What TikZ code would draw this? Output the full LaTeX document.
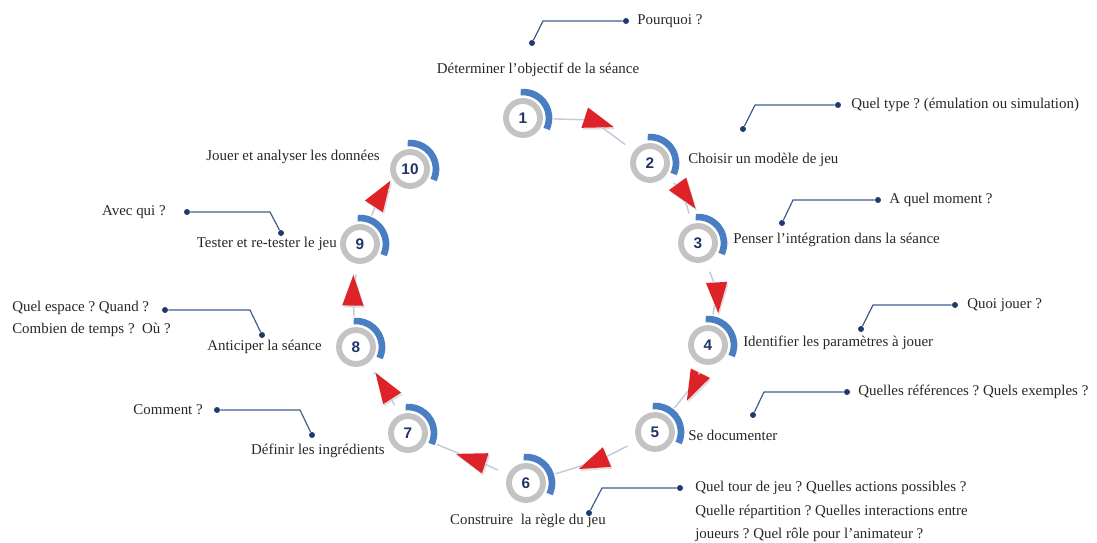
\documentclass[tikz,border=0pt]{standalone}
\usepackage{fontspec}
\setmainfont{Liberation Serif}
\setsansfont{Liberation Sans}
\usetikzlibrary{shapes.geometric,shadows}
\definecolor{ringgray}{HTML}{C3C3C3}
\definecolor{ringblue}{HTML}{4A7EC2}
\definecolor{numnavy}{HTML}{1F3566}
\definecolor{arrowred}{HTML}{DE2328}
\definecolor{linkgray}{HTML}{C2CBD8}
\definecolor{callblue}{HTML}{3F5E8E}
\definecolor{dotnavy}{HTML}{1E3A6E}
\definecolor{txt}{HTML}{262626}
\frenchspacing
\begin{document}
\begin{tikzpicture}[x=0.75pt, y=0.75pt,
  stepnode/.style={circle, minimum size=46pt, inner sep=0pt, text=numnavy,
    font=\sffamily\bfseries\fontsize{11.5}{11.5}\selectfont,
    path picture={
      \draw[ringgray, line width=4.4pt] (path picture bounding box.center) circle[radius=12.75pt];
      \draw[ringblue, line width=5pt] ([shift={(95:19.5pt)}]path picture bounding box.center) arc[start angle=95, end angle=-25, radius=19.5pt];
    }},
  arrowtri/.style={isosceles triangle, isosceles triangle stretches, fill=arrowred, inner sep=0pt,
    minimum width=16pt, minimum height=23pt,
    drop shadow={opacity=0.25, shadow xshift=1pt, shadow yshift=-1.5pt}},
  link/.style={linkgray, line width=1.1pt},
  stepdot/.style={circle, fill=dotnavy, inner sep=0pt, minimum size=4.5pt},
  callline/.style={callblue, line width=0.9pt},
  lbl/.style={text=txt, inner sep=0pt, font=\fontsize{11.2}{13}\selectfont}]
\useasboundingbox (0,0) rectangle (1097,543);

% Step circles around the cycle
\node[stepnode] (c1) at (523,425) {1};
\node[stepnode] (c2) at (650,380) {2};
\node[stepnode] (c3) at (698,300) {3};
\node[stepnode] (c4) at (708,198) {4};
\node[stepnode] (c5) at (655,111) {5};
\node[stepnode] (c6) at (526,60) {6};
\node[stepnode] (c7) at (408,110) {7};
\node[stepnode] (c8) at (356,196) {8};
\node[stepnode] (c9) at (360,299) {9};
\node[stepnode] (c10) at (410,374) {10};

% Red arrow heads between the steps
\node[arrowtri, rotate=-18] (a1) at (592,423) {};
\node[arrowtri, rotate=-54] (a2) at (682,353) {};
\node[arrowtri, rotate=-87] (a3) at (717,253) {};
\node[arrowtri, rotate=-116] (a4) at (697,163) {};
\node[arrowtri, rotate=-157] (a5) at (600,83) {};
\node[arrowtri, rotate=162] (a6) at (478,82) {};
\node[arrowtri, rotate=123] (a7) at (388,151) {};
\node[arrowtri, rotate=89] (a8) at (353,245) {};
\node[arrowtri, rotate=57] (a9) at (378,343) {};

% Links
\draw[link] (c1) -- (a1) -- (c2);
\draw[link] (c2) -- (a2) -- (c3);
\draw[link] (c3) -- (a3) -- (c4);
\draw[link] (c4) -- (a4) -- (c5);
\draw[link] (c5) -- (a5) -- (c6);
\draw[link] (c6) -- (a6) -- (c7);
\draw[link] (c7) -- (a7) -- (c8);
\draw[link] (c8) -- (a8) -- (c9);
\draw[link] (c9) -- (a9) -- (c10);

% Step titles
\node[lbl, anchor=center] (l1) at (538,473) {Déterminer l’objectif de la séance};
\node[lbl, anchor=west] (l2) at (688,383) {Choisir un modèle de jeu};
\node[lbl, anchor=west] (l3) at (733,303) {Penser l’intégration dans la séance};
\node[lbl, anchor=west] (l4) at (743,200) {Identifier les paramètres à jouer};
\node[lbl, anchor=west] (l5) at (688,108) {Se documenter};
\node[lbl, anchor=center] (l6) at (528,22) {Construire~ la règle du jeu};
\node[lbl, anchor=east] (l7) at (385,92) {Définir les ingrédients};
\node[lbl, anchor=east] (l8) at (322,196) {Anticiper la séance};
\node[lbl, anchor=east] (l9) at (337,299) {Tester et re-tester le jeu};
\node[lbl, anchor=east] (l10) at (380,386) {Jouer et analyser les données};

% Question callouts
\node[stepdot] (s1) at (532,500) {};
\coordinate (k1) at (543,522);
\node[stepdot] (q1) at (626,522) {};
\draw[callline] (s1) -- (k1) -- (q1);
\node[lbl, anchor=west] (t1) at (637,522) {Pourquoi ?};

\node[stepdot] (s2) at (743,414) {};
\coordinate (k2) at (755,438);
\node[stepdot] (q2) at (838,438) {};
\draw[callline] (s2) -- (k2) -- (q2);
\node[lbl, anchor=west] (t2) at (851,438) {Quel type ? (émulation ou simulation)};

\node[stepdot] (s3) at (782,320) {};
\coordinate (k3) at (793,343);
\node[stepdot] (q3) at (878,343) {};
\draw[callline] (s3) -- (k3) -- (q3);
\node[lbl, anchor=west] (t3) at (889,343) {A quel moment ?};

\node[stepdot] (s4) at (861,214) {};
\coordinate (k4) at (873,238);
\node[stepdot] (q4) at (955,238) {};
\draw[callline] (s4) -- (k4) -- (q4);
\node[lbl, anchor=west] (t4) at (967,238) {Quoi jouer ?};

\node[stepdot] (s5) at (753,128) {};
\coordinate (k5) at (764,151);
\node[stepdot] (q5) at (847,151) {};
\draw[callline] (s5) -- (k5) -- (q5);
\node[lbl, anchor=west] (t5) at (858,151) {Quelles références ? Quels exemples ?};

\node[stepdot] (s6) at (589,30) {};
\coordinate (k6) at (602,55);
\node[stepdot] (q6) at (680,55) {};
\draw[callline] (s6) -- (k6) -- (q6);
\node[lbl, anchor=north west, align=left, font=\fontsize{11.2}{17.6}\selectfont] (t6) at (695,62)
  {Quel tour de jeu ? Quelles actions possibles ?\\Quelle répartition ? Quelles interactions entre\\joueurs ? Quel rôle pour l’animateur ?};

\node[stepdot] (s7) at (312,108) {};
\coordinate (k7) at (300,133);
\node[stepdot] (q7) at (217,133) {};
\draw[callline] (s7) -- (k7) -- (q7);
\node[lbl, anchor=east] (t7) at (203,133) {Comment ?};

\node[stepdot] (s8) at (262,208) {};
\coordinate (k8) at (250,233);
\node[stepdot] (q8) at (165,233) {};
\draw[callline] (s8) -- (k8) -- (q8);
\node[lbl, anchor=north west, align=left, font=\fontsize{11.2}{16.5}\selectfont] (t8) at (12,242)
  {Quel espace ? Quand ?\\Combien de temps ?~ Où ?};

\node[stepdot] (s9) at (281,310) {};
\coordinate (k9) at (270,331);
\node[stepdot] (q9) at (187,331) {};
\draw[callline] (s9) -- (k9) -- (q9);
\node[lbl, anchor=east] (t9) at (166,331) {Avec qui ?};
\end{tikzpicture}
\end{document}
